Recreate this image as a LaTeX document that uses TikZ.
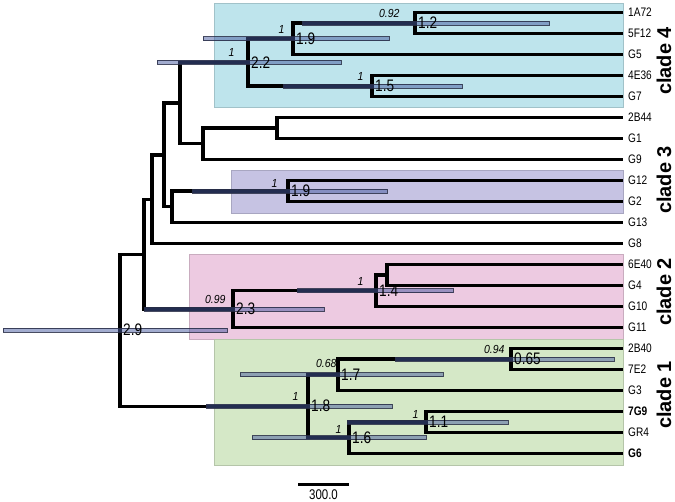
\documentclass[tikz,border=0pt]{standalone}
\usepackage{fontspec}
\setmainfont{Liberation Sans}
\newfontfamily\narrowfont[FakeStretch=0.82]{Liberation Sans}
\newfontfamily\suppfont[FakeStretch=0.9]{Liberation Sans}

\definecolor{cladeFour}{RGB}{190,228,236}
\definecolor{cladeThree}{RGB}{198,195,227}
\definecolor{cladeTwo}{RGB}{237,202,225}
\definecolor{cladeOne}{RGB}{213,232,199}
\definecolor{hpdFill}{RGB}{70,90,160}
\definecolor{hpdEdge}{RGB}{40,45,70}

\tikzset{every picture/.style={line width=0.75pt},
  branch/.style={line width=2.5pt, line join=miter},
  hpd/.style={fill=hpdFill, fill opacity=0.5, draw=hpdEdge, draw opacity=0.85, line width=0.5pt},
  cladebox/.style={line width=0.5pt},
  tiplabel/.style={anchor=west, inner xsep=3.5pt, inner ysep=0.75pt, font=\narrowfont\fontsize{9.25}{10}\selectfont},
  agelabel/.style={anchor=west, inner sep=2pt, font=\narrowfont\fontsize{12.5}{13}\selectfont},
  support/.style={anchor=south east, inner sep=0.75pt, font=\suppfont\itshape\fontsize{8.75}{10}\selectfont},
  cladelabel/.style={rotate=90, inner sep=0.5pt, font=\bfseries\fontsize{15}{17}\selectfont},
  scalebar/.style={line width=2.25pt}
}

\begin{document}
\begin{tikzpicture}[x=0.75pt,y=0.75pt,yscale=-1,xscale=1]
\useasboundingbox (0,0) rectangle (675,502);

%Shape: clade boxes
\draw[cladebox, fill=cladeFour, draw=cladeFour!85!black] (214,3) rectangle (623,107);
\draw[cladebox, fill=cladeThree, draw=cladeThree!85!black] (231,170) rectangle (623,213);
\draw[cladebox, fill=cladeTwo, draw=cladeTwo!85!black] (189,254) rectangle (623,339);
\draw[cladebox, fill=cladeOne, draw=cladeOne!85!black] (214,339) rectangle (623,465);

% Tip nodes
\node[tiplabel] (tip1A72) at (623,12.5) {1A72};
\node[tiplabel] (tip5F12) at (623,33.5) {5F12};
\node[tiplabel] (tipG5) at (623,54.5) {G5};
\node[tiplabel] (tip4E36) at (623,75.5) {4E36};
\node[tiplabel] (tipG7) at (623,96.5) {G7};
\node[tiplabel] (tip2B44) at (623,117.5) {2B44};
\node[tiplabel] (tipG1) at (623,138.5) {G1};
\node[tiplabel] (tipG9) at (623,159.5) {G9};
\node[tiplabel] (tipG12) at (623,180.5) {G12};
\node[tiplabel] (tipG2) at (623,201.5) {G2};
\node[tiplabel] (tipG13) at (623,222.5) {G13};
\node[tiplabel] (tipG8) at (623,243.5) {G8};
\node[tiplabel] (tip6E40) at (623,264.5) {6E40};
\node[tiplabel] (tipG4) at (623,285.5) {G4};
\node[tiplabel] (tipG10) at (623,306.5) {G10};
\node[tiplabel] (tipG11) at (623,327.5) {G11};
\node[tiplabel] (tip2B40) at (623,348.5) {2B40};
\node[tiplabel] (tip7E2) at (623,369.5) {7E2};
\node[tiplabel] (tipG3) at (623,390.5) {G3};
\node[tiplabel] (tip7G9) at (623,411.5) {\bfseries 7G9};
\node[tiplabel] (tipGR4) at (623,432.5) {GR4};
\node[tiplabel] (tipG6) at (623,453.5) {\bfseries G6};

% Internal nodes
\coordinate (n12) at (415,23);
\coordinate (n19) at (293,38.75);
\coordinate (n15) at (372,86);
\coordinate (n22) at (248,62.4);
\coordinate (nA) at (277,128);
\coordinate (nB) at (203,143.75);
\coordinate (nC) at (180,103.1);
\coordinate (n19b) at (288,191);
\coordinate (nD) at (172,206.75);
\coordinate (nE) at (164,154.9);
\coordinate (nF) at (152,199.2);
\coordinate (nG) at (144,254.2);
\coordinate (nH) at (387,275);
\coordinate (n14) at (376,290.75);
\coordinate (n23) at (233,309.1);
\coordinate (n29) at (120,330.2);
\coordinate (n065) at (511,359);
\coordinate (n17) at (338,374.75);
\coordinate (n18) at (308,406.25);
\coordinate (n11) at (426,422);
\coordinate (n16) at (349,437.75);

%Straight Lines: branches
\draw[branch] (n12) |- (tip1A72.west) (n12) |- (tip5F12.west);
\draw[branch] (n19) |- (n12) (n19) |- (tipG5.west);
\draw[branch] (n15) |- (tip4E36.west) (n15) |- (tipG7.west);
\draw[branch] (n22) |- (n19) (n22) |- (n15);
\draw[branch] (nA) |- (tip2B44.west) (nA) |- (tipG1.west);
\draw[branch] (nB) |- (nA) (nB) |- (tipG9.west);
\draw[branch] (nC) |- (n22) (nC) |- (nB);
\draw[branch] (n19b) |- (tipG12.west) (n19b) |- (tipG2.west);
\draw[branch] (nD) |- (n19b) (nD) |- (tipG13.west);
\draw[branch] (nE) |- (nC) (nE) |- (nD);
\draw[branch] (nF) |- (nE) (nF) |- (tipG8.west);
\draw[branch] (nG) |- (nF) (nG) |- (n23);
\draw[branch] (nH) |- (tip6E40.west) (nH) |- (tipG4.west);
\draw[branch] (n14) |- (nH) (n14) |- (tipG10.west);
\draw[branch] (n23) |- (n14) (n23) |- (tipG11.west);
\draw[branch] (n065) |- (tip2B40.west) (n065) |- (tip7E2.west);
\draw[branch] (n17) |- (n065) (n17) |- (tipG3.west);
\draw[branch] (n11) |- (tip7G9.west) (n11) |- (tipGR4.west);
\draw[branch] (n16) |- (n11) (n16) |- (tipG6.west);
\draw[branch] (n18) |- (n17) (n18) |- (n16);
\draw[branch] (n29) |- (nG) (n29) |- (n18);

%Shape: age intervals
\draw[hpd] (302,21) rectangle (549,25);
\draw[hpd] (203,36.75) rectangle (389,40.75);
\draw[hpd] (157,60.4) rectangle (341,64.4);
\draw[hpd] (283,84) rectangle (462,88);
\draw[hpd] (192,189) rectangle (387,193);
\draw[hpd] (297,288.75) rectangle (453,292.75);
\draw[hpd] (144,307.1) rectangle (324,311.1);
\draw[hpd] (3,328.2) rectangle (227,332.2);
\draw[hpd] (395,357) rectangle (614,361);
\draw[hpd] (240,372.75) rectangle (443,376.75);
\draw[hpd] (206,404.25) rectangle (392,408.25);
\draw[hpd] (347,420) rectangle (508,424);
\draw[hpd] (252,435.75) rectangle (426,439.75);

% Text Node: ages
\node[agelabel] (a12) at (n12) {1.2};
\node[agelabel] (a19) at (n19) {1.9};
\node[agelabel] (a22) at (n22) {2.2};
\node[agelabel] (a15) at (n15) {1.5};
\node[agelabel] (a19b) at (n19b) {1.9};
\node[agelabel] (a14) at (n14) {1.4};
\node[agelabel] (a23) at (n23) {2.3};
\node[agelabel] (a29) at (n29) {2.9};
\node[agelabel] (a065) at (n065) {0.65};
\node[agelabel] (a17) at (n17) {1.7};
\node[agelabel] (a18) at (n18) {1.8};
\node[agelabel] (a11) at (n11) {1.1};
\node[agelabel] (a16) at (n16) {1.6};

% Text Node: posterior support
\node[support] (s12) at (401,19.5) {0.92};
\node[support] (s19) at (286,35) {1};
\node[support] (s22) at (236,58.5) {1};
\node[support] (s15) at (365,82.5) {1};
\node[support] (s19b) at (279,189) {1};
\node[support] (s14) at (365,287.5) {1};
\node[support] (s23) at (227,305) {0.99};
\node[support] (s065) at (506,355) {0.94};
\node[support] (s17) at (338,369.5) {0.68};
\node[support] (s18) at (300,402) {1};
\node[support] (s16) at (343,435) {1};
\node[support] (s11) at (420,419.5) {1};

% Text Node: clades
\node[cladelabel] (clade4) at (664,61) {clade 4};
\node[cladelabel] (clade3) at (664,180) {clade 3};
\node[cladelabel] (clade2) at (664,292) {clade 2};
\node[cladelabel] (clade1) at (664,395) {clade 1};

%Straight Lines: scale bar
\coordinate (sbLeft) at (298,484);
\coordinate (sbRight) at (349,484);
\draw[scalebar] (sbLeft) -- (sbRight);
\node[font=\narrowfont\fontsize{10.5}{12}\selectfont, inner sep=0.75pt] (sbText) at (323.5,495) {300.0};

\end{tikzpicture}
\end{document}
